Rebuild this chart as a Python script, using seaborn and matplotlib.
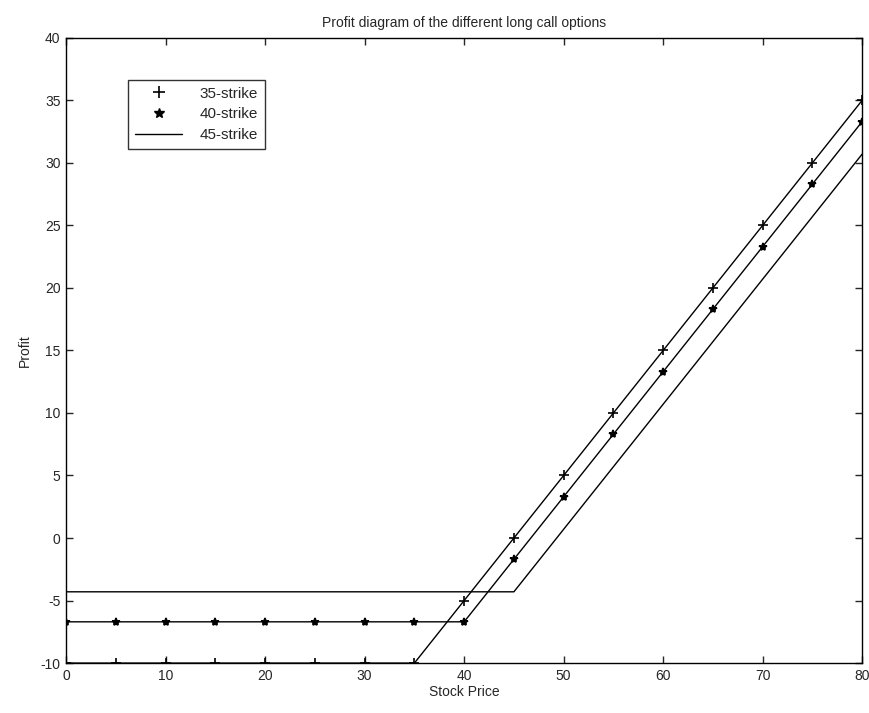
import matplotlib
matplotlib.use("Agg")
import matplotlib.pyplot as plt
from matplotlib.lines import Line2D
import seaborn as sns
import pandas as pd

stock_price = [0, 5, 10, 15, 20, 25, 30, 35, 40, 45, 50, 55, 60, 65, 70, 75, 80]
profit_35 = [-10, -10, -10, -10, -10, -10, -10, -10, -5, 0, 5, 10, 15, 20, 25, 30, 35]
profit_40 = [-6.7, -6.7, -6.7, -6.7, -6.7, -6.7, -6.7, -6.7, -6.7, -1.7, 3.3, 8.3, 13.3, 18.3, 23.3, 28.3, 33.3]
profit_45 = [-4.3, -4.3, -4.3, -4.3, -4.3, -4.3, -4.3, -4.3, -4.3, -4.3, 0.7, 5.7, 10.7, 15.7, 20.7, 25.7, 30.7]
labels = ["35-strike", "40-strike", "45-strike"]

sns.set_style("white")
plt.rcParams["font.family"] = ["Liberation Sans", "DejaVu Sans"]
plt.rcParams["axes.unicode_minus"] = False

fig = plt.figure(figsize=(8.7, 7.13), dpi=100)
ax = fig.add_axes([0.076, 0.070, 0.915, 0.877])

series = [profit_35, profit_40, profit_45]
markers = ["+", "*", None]
msizes = [7, 6, 0]
for vals, lab, mk, ms in zip(series, labels, markers, msizes):
    df = pd.DataFrame({"Stock Price": stock_price, "Profit": vals})
    sns.lineplot(data=df, x="Stock Price", y="Profit", ax=ax, color="black",
                 linewidth=1.0, marker=mk, markersize=ms, markeredgewidth=1.2,
                 markeredgecolor="black", markerfacecolor="black", legend=False)

ax.set_xlim(0, 80)
ax.set_ylim(-10, 40)
ax.set_xticks(range(0, 81, 10))
ax.set_yticks(range(-10, 41, 5))
ax.tick_params(direction="in", length=5, width=1, labelsize=10, top=True, right=True,
               left=True, bottom=True, pad=4)
for s in ax.spines.values():
    s.set_color("black")
    s.set_linewidth(1.0)
ax.set_xlabel("Stock Price", fontsize=10, labelpad=2)
ax.set_ylabel("Profit", fontsize=10, labelpad=6)
ax.set_title("Profit diagram of the different long call options", fontsize=10, pad=8)

handles = [
    Line2D([], [], color="black", linestyle="none", marker="+", markersize=8, markeredgewidth=1.2),
    Line2D([], [], color="black", linestyle="none", marker="*", markersize=7, markeredgewidth=1.0),
    Line2D([], [], color="black", linestyle="-", linewidth=1.0),
]
leg = ax.legend(handles, labels, loc="upper left", bbox_to_anchor=(0.078, 0.933), frameon=True,
                fancybox=False, edgecolor="black", fontsize=11, handlelength=3.1,
                borderpad=0.45, labelspacing=0.45, handletextpad=1.1, borderaxespad=0)
leg.get_frame().set_linewidth(1.0)

fig.savefig("out.png", dpi=100)
